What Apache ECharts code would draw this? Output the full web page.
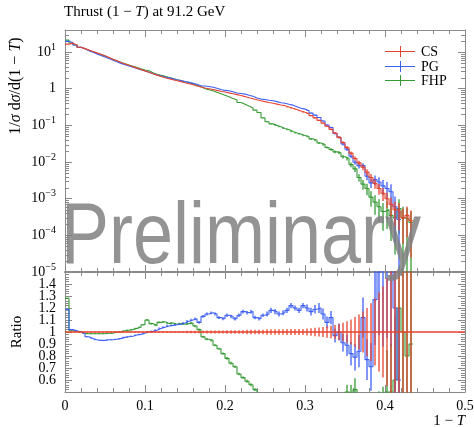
<!DOCTYPE html>
<html><head><meta charset="utf-8">
<script src="https://cdn.jsdelivr.net/npm/echarts@6/dist/echarts.min.js"></script>
<style>html,body{margin:0;padding:0;background:#fff}#c{width:474px;height:427px}</style>
</head><body><div id="c"></div>
<script>
// ---- binning ----
const binStart = 0, binWidth = 0.005, nBins = 100;
// ---- CS: 1/sigma dsigma/d(1-T) per bin ----
const cs = [16.5,17.5,15.5,13.5,12.4,11.4,10.4,9.5,8.7,7.9,
 7.1,6.4,5.8,5.2,4.75,4.35,4.0,3.65,3.35,3.07,
 2.8,2.55,2.35,2.15,2.0,1.88,1.76,1.65,1.56,1.46,
 1.37,1.28,1.19,1.11,1.05,1.0,0.95,0.9,0.85,0.81,
 0.77,0.73,0.69,0.65,0.61,0.57,0.535,0.5,0.47,0.445,
 0.42,0.40,0.38,0.36,0.345,0.318,0.292,0.27,0.248,0.228,
 0.21,0.185,0.16,0.137,0.115,0.095,0.078,0.062,0.047,0.034,
 0.025,0.0175,0.0125,0.0095,0.0072,0.0053,0.0038,0.0026,0.0019,0.0014,
 0.001,0.0007,0.0005,0.00045,0.0003,0.00035,0.00025];
const csErr = [0.004,0.004,0.004,0.004,0.004,0.004,0.004,0.004,0.004,0.004,
 0.005,0.005,0.005,0.005,0.005,0.005,0.005,0.005,0.005,0.005,
 0.007,0.007,0.007,0.007,0.007,0.007,0.007,0.007,0.007,0.007,
 0.01,0.01,0.01,0.01,0.01,0.012,0.012,0.012,0.012,0.012,
 0.014,0.014,0.014,0.014,0.014,0.018,0.018,0.018,0.018,0.018,
 0.022,0.022,0.022,0.022,0.022,0.026,0.026,0.026,0.026,0.026,
 0.03,0.032,0.035,0.038,0.042,0.047,0.052,0.058,0.066,0.078,
 0.09,0.105,0.125,0.145,0.17,0.2,0.24,0.28,0.33,0.38,
 0.45,0.55,0.65,0.7,0.8,0.75,0.9];
// ---- PG / CS ratio per bin ----
const pgRatio = [1.19,1.02,1.01,1.0,0.99,0.96,0.945,0.935,0.93,0.93,
 0.935,0.935,0.94,0.945,0.955,0.96,0.965,0.975,0.98,0.99,
 1.0,1.005,1.015,1.03,1.04,1.05,1.055,1.06,1.065,1.075,
 1.09,1.1,1.11,1.08,1.13,1.15,1.16,1.15,1.12,1.11,
 1.14,1.13,1.11,1.14,1.17,1.16,1.17,1.12,1.11,1.14,
 1.15,1.18,1.17,1.15,1.16,1.18,1.22,1.2,1.18,1.22,
 1.2,1.17,1.19,1.2,1.15,1.08,1.12,0.97,1.0,0.91,
 0.89,0.82,0.79,0.84,1.12,0.77,0.71,1.27,1.5,1.6,
 1.9,2.2,1.2,0.6];
const pgErr = [0.004,0.004,0.004,0.004,0.004,0.004,0.004,0.004,0.004,0.004,
 0.005,0.005,0.005,0.005,0.005,0.005,0.005,0.005,0.005,0.005,
 0.007,0.007,0.007,0.007,0.007,0.007,0.007,0.007,0.007,0.007,
 0.01,0.01,0.01,0.01,0.01,0.01,0.01,0.01,0.01,0.01,
 0.013,0.013,0.013,0.013,0.013,0.013,0.013,0.013,0.013,0.013,
 0.018,0.018,0.018,0.018,0.018,0.018,0.018,0.018,0.018,0.018,
 0.024,0.027,0.03,0.034,0.04,0.045,0.05,0.06,0.07,0.08,
 0.1,0.12,0.14,0.16,0.15,0.22,0.28,0.3,0.35,0.45,
 0.5,0.6,0.9,1.0];
// ---- FHP / CS ratio per bin ----
const fhpRatio = [1.28,1.01,1.005,1.0,0.99,0.985,0.985,0.985,0.985,0.985,
 0.99,0.99,1.0,1.0,1.01,1.015,1.02,1.03,1.04,1.06,
 1.1,1.07,1.055,1.08,1.085,1.07,1.075,1.065,1.07,1.065,
 1.07,1.075,1.05,1.02,0.96,0.94,0.93,0.89,0.86,0.82,
 0.78,0.74,0.71,0.65,0.62,0.59,0.56,0.52,0.48,0.36,
 0.30,0.275,0.263,0.256,0.238,0.242,0.233,0.23,0.234,0.232,
 0.238,0.232,0.244,0.241,0.26,0.263,0.282,0.306,0.383,0.41,
 0.5,0.486,0.52,0.4,0.347,0.358,0.29,0.31,0.316,0.32,
 0.5,0.5,0.6,1.2,1.0,0.8,0.9];
const fhpErr = [0.004,0.004,0.004,0.004,0.004,0.004,0.004,0.004,0.004,0.004,
 0.005,0.005,0.005,0.005,0.005,0.005,0.005,0.005,0.005,0.005,
 0.007,0.007,0.007,0.007,0.007,0.007,0.007,0.007,0.007,0.007,
 0.01,0.01,0.01,0.01,0.01,0.01,0.01,0.01,0.01,0.01,
 0.015,0.015,0.015,0.015,0.015,0.022,0.022,0.022,0.022,0.022,
 0.03,0.03,0.03,0.03,0.03,0.038,0.038,0.038,0.038,0.038,
 0.045,0.05,0.055,0.06,0.065,0.07,0.08,0.09,0.1,0.11,
 0.12,0.15,0.18,0.22,0.3,0.35,0.45,0.55,0.6,0.7,
 0.7,0.8,0.9,0.8,1.0,1.0,1.0];
// ---- axis ticks / labels ----
const xTickValues = [0, 0.1, 0.2, 0.3, 0.4, 0.5];
const ratioTickValues = [0.5,0.6,0.7,0.8,0.9,1.0,1.1,1.2,1.3,1.4];
const logDecades = [-5,-4,-3,-2,-1,0,1];
const seriesNames = ['CS','PG','FHP'];

const red = '#e8432e', blue = '#3d5ff5', green = '#359a35';
const serif = 'Liberation Serif';
const axisGray = '#8a8a8a';
const yMin = 1e-5, yMax = 40;

const pg = pgRatio.map((r,i)=>cs[i]*r);
const fhp = fhpRatio.map((r,i)=>cs[i]*r);
const refLine = [];
for (let i=0;i<nBins;i++) refLine.push(1);

function edges(i){ return [binStart+i*binWidth, binStart+(i+1)*binWidth]; }
function steps(vals){ const d=[]; vals.forEach((v,i)=>{ if(v==null) return; const e=edges(i); d.push([e[0],v],[e[1],v]); }); return d; }
// error bars as broken line segments: [x,lo],[x,hi],gap
function barLines(vals, errs, floor){ const d=[]; errs.forEach((er,i)=>{ const v=vals[i]; const e=edges(i); const x=(e[0]+e[1])/2; const dv=v*er; let lo=v-dv; if(lo<=0) lo=floor; d.push([x,lo],[x,v+dv],[x,'-']); }); return d; }

function lineSeries(data, xi, yi, color, z, w){
  return {type:'line', xAxisIndex:xi, yAxisIndex:yi, data, showSymbol:false, symbol:'none', connectNulls:false,
    lineStyle:{width:w||1,color,opacity:1}, itemStyle:{color}, clip:true, silent:true, animation:false, z};
}
// log minor ticks positions (axis decoration)
const minorLog = [];
logDecades.forEach(n=>{ for(let k=2;k<=9;k++){ const v=k*Math.pow(10,n); if(v<yMax) minorLog.push([0,v]); } });
const minorTickSeries = {type:'custom', xAxisIndex:0, yAxisIndex:0, data:minorLog, silent:true, animation:false, z:1,
  renderItem:(p,api)=>{
    const v=api.value(1);
    const a=api.coord([0,v]), b=api.coord([0.5,v]);
    const y=Math.round(a[1]);
    return {type:'group', children:[
      {type:'rect', shape:{x:a[0],y:y,width:4,height:1}, style:{fill:axisGray}},
      {type:'rect', shape:{x:b[0]-4,y:y,width:4,height:1}, style:{fill:axisGray}}
    ]};
  }};

const L=65, W=400, T1=30, H1=242, T2=272, H2=120;

function xAxisCfg(grid, pos, labels, lw){
  return {gridIndex:grid, type:'value', min:0, max:0.5, interval:0.1, position:pos,
    axisLine:{show:true,onZero:false,lineStyle:{color:axisGray,width:lw||1}},
    axisTick:{show:true,inside:true,length:7,lineStyle:{color:axisGray}},
    minorTick:{show:true,splitNumber:5,length:4,lineStyle:{color:axisGray}},
    splitLine:{show:false}, minorSplitLine:{show:false},
    axisLabel:{show:labels, color:'#000', fontFamily:serif, fontSize:14, margin:7,
      formatter:v=>{ const t=xTickValues.find(q=>Math.abs(q-v)<1e-9); return t===undefined?'':(t===0?'0':t.toFixed(1)); }}};
}
const logLabel = v=>{
  const n=Math.log10(v), r=Math.round(n);
  if(Math.abs(n-r)>1e-6 || logDecades.indexOf(r)<0) return '';
  if(r===0) return '{b|1}';
  return '{b|10}{s|'+(r<0?'\u2212'+(-r):String(r))+'}';
};
function logAxis(pos, labels){
  return {gridIndex:0, type:'log', logBase:10, min:yMin, max:yMax, position:pos, splitNumber:7,
    axisLine:{show:true,onZero:false,lineStyle:{color:axisGray}},
    axisTick:{show:true,inside:true,length:7,lineStyle:{color:axisGray}},
    minorTick:{show:false}, splitLine:{show:false},
    axisLabel:{show:labels, showMaxLabel:false, margin:9, formatter:logLabel,
      rich:{b:{fontFamily:serif,fontSize:14,color:'#000',lineHeight:20},
            s:{fontFamily:serif,fontSize:10,color:'#000',lineHeight:12,verticalAlign:'top'}}}};
}
function ratioAxis(pos, labels){
  return {gridIndex:1, type:'value', min:0.5, max:1.5, interval:0.1, position:pos,
    axisLine:{show:true,onZero:false,lineStyle:{color:axisGray}},
    axisTick:{show:true,inside:true,length:7,lineStyle:{color:axisGray}},
    minorTick:{show:true,splitNumber:5,length:4,lineStyle:{color:axisGray}},
    splitLine:{show:false}, minorSplitLine:{show:false},
    axisLabel:{show:labels, showMaxLabel:false, color:'#000', fontFamily:serif, fontSize:14, margin:9,
      formatter:v=>{ const t=ratioTickValues.find(q=>Math.abs(q-v)<1e-9); return t===undefined?'':(Math.abs(t-1)<1e-9?'1':t.toFixed(1)); }}};
}

const legendY = [51, 65.5, 80];
const legendColors = [red, blue, green];
const legendGraphics = [];
seriesNames.forEach((nm,i)=>{
  const y=Math.round(legendY[i]);
  legendGraphics.push({type:'rect', shape:{x:385,y:y,width:30,height:1}, style:{fill:legendColors[i]}, z:10});
  legendGraphics.push({type:'rect', shape:{x:400,y:y-5,width:1,height:11}, style:{fill:legendColors[i]}, z:10});
  legendGraphics.push({type:'text', x:421, y:y+1, style:{text:nm, fill:'#000', font:'14px "Liberation Serif"', textVerticalAlign:'middle'}, z:10});
});

const chart = echarts.init(document.getElementById('c'), null, {renderer:'canvas'});
chart.setOption({
  animation:false,
  backgroundColor:'#fff',
  textStyle:{fontFamily:serif},
  grid:[
    {left:L, top:T1, width:W, height:H1, containLabel:false, outerBoundsMode:'none'},
    {left:L, top:T2, width:W, height:H2, containLabel:false, outerBoundsMode:'none'}
  ],
  xAxis:[ xAxisCfg(0,'bottom',false,1), xAxisCfg(0,'top',false,1), xAxisCfg(1,'bottom',true,1), xAxisCfg(1,'top',false,2) ],
  yAxis:[ logAxis('left',true), logAxis('right',false), ratioAxis('left',true), ratioAxis('right',false) ],
  series:[
    minorTickSeries,
    lineSeries(steps(fhp),0,0,green,3,1.1), lineSeries(barLines(fhp,fhpErr,1e-9),0,0,green,3,1.3),
    lineSeries(steps(pg),0,0,blue,4,1.1), lineSeries(barLines(pg,pgErr,1e-9),0,0,blue,4,1.3),
    lineSeries(steps(cs),0,0,red,5,1.1), lineSeries(barLines(cs,csErr,1e-9),0,0,red,5,1.3),
    lineSeries(steps(fhpRatio),2,2,green,3,1.1), lineSeries(barLines(fhpRatio,fhpErr,-1),2,2,green,3,1.3),
    lineSeries(steps(pgRatio),2,2,blue,4,1.1), lineSeries(barLines(pgRatio,pgErr,-1),2,2,blue,4,1.3),
    lineSeries(steps(refLine),2,2,red,5,1.5), lineSeries(barLines(refLine,csErr,-1),2,2,red,5,1.3)
  ],
  graphic:[
    {type:'text', left:64, top:5, style:{text:'{n|Thrust (1 \u2212 }{i|T}{n|) at 91.2 GeV}',
      rich:{n:{fontFamily:serif,fontSize:15,fill:'#000'}, i:{fontFamily:serif,fontSize:15,fontStyle:'italic',fill:'#000'}}}, z:10},
    {type:'text', x:16, y:86, rotation:Math.PI/2, style:{text:'{n|1/}{i|\u03c3}{n| d}{i|\u03c3}{n|/d(1 \u2212 }{i|T}{n|)}',
      textAlign:'center', textVerticalAlign:'middle',
      rich:{n:{fontFamily:serif,fontSize:16,fill:'#000'}, i:{fontFamily:serif,fontSize:16,fontStyle:'italic',fill:'#000'}}}, z:10},
    {type:'text', x:17, y:332, rotation:Math.PI/2, style:{text:'Ratio', font:'15px "Liberation Serif"', fill:'#000',
      textAlign:'center', textVerticalAlign:'middle'}, z:10},
    {type:'text', x:465, y:421, style:{text:'{n|1 \u2212 }{i|T}', textAlign:'right', textVerticalAlign:'middle',
      rich:{n:{fontFamily:serif,fontSize:15,fill:'#000'}, i:{fontFamily:serif,fontSize:15,fontStyle:'italic',fill:'#000'}}}, z:10},
    {type:'text', x:61, y:244, originX:0, originY:22, scaleY:1.2,
      style:{text:'Preliminary', font:'72px "Liberation Sans"', fill:'rgba(128,128,128,0.85)', textVerticalAlign:'middle'}, z:20},
    ...legendGraphics
  ]
});
</script></body></html>
